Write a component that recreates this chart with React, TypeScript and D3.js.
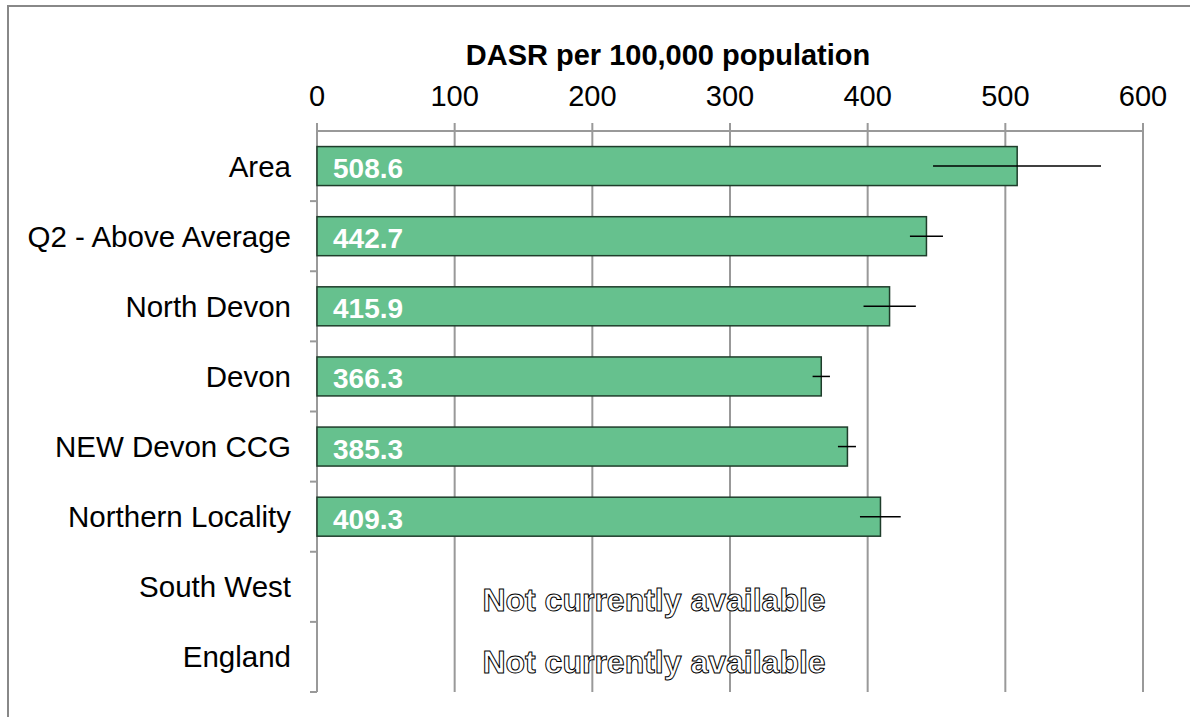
import React from "react";
import * as d3 from "d3";

const categories = ["Area", "Q2 - Above Average", "North Devon", "Devon", "NEW Devon CCG", "Northern Locality", "South West", "England"];
const values: (number | null)[] = [508.6, 442.7, 415.9, 366.3, 385.3, 409.3, null, null];
const lowerCI: (number | null)[] = [447.5, 430.7, 397, 360, 378.4, 394.4, null, null];
const upperCI: (number | null)[] = [569.5, 454.7, 435, 372.6, 391.5, 424, null, null];
const xTicks = [0, 100, 200, 300, 400, 500, 600];
const axisTitle = "DASR per 100,000 population";
const naText = "Not currently available";

export default function App() {
  const W = 1190, H = 717;
  const top = 131, bottom = 692;
  const x = d3.scaleLinear().domain([0, 600]).range([317, 1143]);
  const band = d3.scaleBand<string>().domain(categories).range([top, bottom]);
  const y = d3.scaleBand<string>().domain(categories).range([top, bottom]).paddingInner(0.444).paddingOuter(0.222);
  const naCats = categories.filter((_, i) => values[i] === null);
  const naY = d3.scalePoint<string>().domain(naCats).range([611, 673]);
  const font = "Arial, 'Liberation Sans', sans-serif";
  return (
    <svg width={W} height={H} style={{ position: "absolute", left: 0, top: 0, background: "#fff" }}>
      <rect x={8} y={6} width={1200} height={740} fill="#fff" stroke="#888" strokeWidth={2} />
      <text x={668} y={65} textAnchor="middle" fontFamily={font} fontWeight="bold" fontSize={29}>{axisTitle}</text>
      {xTicks.map((t) => (
        <g key={t}>
          <text x={x(t)} y={106} textAnchor="middle" fontFamily={font} fontSize={29}>{t}</text>
          <line x1={x(t)} x2={x(t)} y1={123} y2={bottom} stroke="#999" strokeWidth={2} />
        </g>
      ))}
      <line x1={317} x2={x(600)} y1={top} y2={top} stroke="#999" strokeWidth={2} />
      <line x1={317} x2={317} y1={top} y2={bottom} stroke="#999" strokeWidth={2} />
      {categories.map((c, i) => (
        <line key={"t" + i} x1={310} x2={317} y1={(band(c) as number) + band.bandwidth()} y2={(band(c) as number) + band.bandwidth()} stroke="#999" strokeWidth={2} />
      ))}
      {categories.map((c, i) => {
        const cy = (band(c) as number) + band.bandwidth() / 2;
        const v = values[i];
        return (
          <g key={c}>
            <text x={291} y={cy + 10.5} textAnchor="end" fontFamily={font} fontSize={29.5}>{c}</text>
            {v !== null ? (
              <g>
                <rect x={x(0)} y={y(c)} width={x(v) - x(0)} height={y.bandwidth()} fill="#66C18E" stroke="#1f3d2b" strokeWidth={1.5} />
                <line x1={x(lowerCI[i] as number)} x2={x(upperCI[i] as number)} y1={cy} y2={cy} stroke="#000" strokeWidth={1.5} />
                <text x={333} y={cy + 12} fontFamily={font} fontWeight="bold" fontSize={28} fill="#fff">{v.toFixed(1)}</text>
              </g>
            ) : (
              <text x={654} y={naY(c)} textAnchor="middle" fontFamily={font} fontWeight="bold" fontSize={32} fill="#fff" stroke="#000" strokeWidth={1}>{naText}</text>
            )}
          </g>
        );
      })}
    </svg>
  );
}
